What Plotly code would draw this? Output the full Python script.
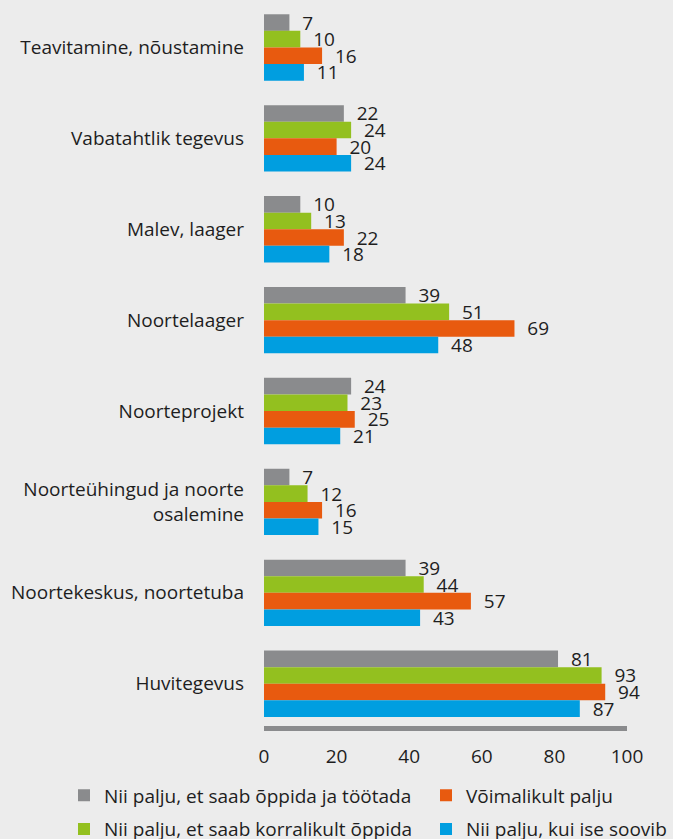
import plotly.graph_objects as go

# Activity categories, listed top to bottom
categories = [
    "Teavitamine, nõustamine",
    "Vabatahtlik tegevus",
    "Malev, laager",
    "Noortelaager",
    "Noorteprojekt",
    "Noorteühingud ja noorte<br>osalemine",
    "Noortekeskus, noortetuba",
    "Huvitegevus",
]

# Series (answer options) and their values per category
series_names = [
    "Nii palju, et saab õppida ja töötada",
    "Nii palju, et saab korralikult õppida",
    "Võimalikult palju",
    "Nii palju, kui ise soovib",
]
vals_study_work = [7, 22, 10, 39, 24, 7, 39, 81]
vals_study_well = [10, 24, 13, 51, 23, 12, 44, 93]
vals_max = [16, 20, 22, 69, 25, 16, 57, 94]
vals_wish = [11, 24, 18, 48, 21, 15, 43, 87]

x_ticks = [0, 20, 40, 60, 80, 100]

colors = ["#8a8b8d", "#93c01f", "#e85a0f", "#009ee0"]
legend_ids = ["legend", "legend", "legend2", "legend2"]
all_values = [vals_study_work, vals_study_well, vals_max, vals_wish]

FONT = "Open Sans"
FS = 19
TEXT_COLOR = "#1e1e1e"
BG = "#ececec"
W, H = 673, 839

fig = go.Figure()
for i, (name, vals) in enumerate(zip(series_names, all_values)):
    fig.add_trace(go.Bar(
        y=categories,
        x=vals,
        orientation="h",
        name=name,
        marker=dict(color=colors[i], line=dict(width=0)),
        text=vals,
        texttemplate="\u00a0\u00a0%{x}",
        textposition="outside",
        constraintext="none",
        cliponaxis=False,
        textfont=dict(family=FONT, size=FS, color=TEXT_COLOR),
        legend=legend_ids[i],
        legendgroup=f"g{i}",
        hoverinfo="x+y+name",
    ))

legend_common = dict(
    orientation="h",
    xref="container",
    yref="container",
    xanchor="left",
    yanchor="top",
    y=1 - 776.5 / H,
    bgcolor="rgba(0,0,0,0)",
    tracegroupgap=6,
    font=dict(family=FONT, size=FS, color=TEXT_COLOR),
)

fig.update_layout(
    width=W,
    height=H,
    margin=dict(l=264, r=46, t=2, b=113, autoexpand=False),
    paper_bgcolor=BG,
    plot_bgcolor=BG,
    barmode="group",
    bargap=0.27,
    bargroupgap=0,
    font=dict(family=FONT, size=FS, color=TEXT_COLOR),
    xaxis=dict(
        range=[0, 100],
        tickvals=x_ticks,
        ticktext=[str(t) for t in x_ticks],
        showgrid=False,
        zeroline=False,
        showline=True,
        linecolor="#8a8b8d",
        linewidth=5,
        ticks="",
        ticklabelstandoff=9,
        tickfont=dict(family=FONT, size=FS, color=TEXT_COLOR),
        fixedrange=True,
    ),
    yaxis=dict(
        range=[7.465, -0.5],
        showgrid=False,
        zeroline=False,
        showline=False,
        ticks="",
        ticklabelstandoff=19,
        tickfont=dict(family=FONT, size=FS, color=TEXT_COLOR),
        fixedrange=True,
    ),
    legend=dict(legend_common, x=64 / W),
    legend2=dict(legend_common, x=426 / W),
    showlegend=True,
)

fig.write_html("out.html")
